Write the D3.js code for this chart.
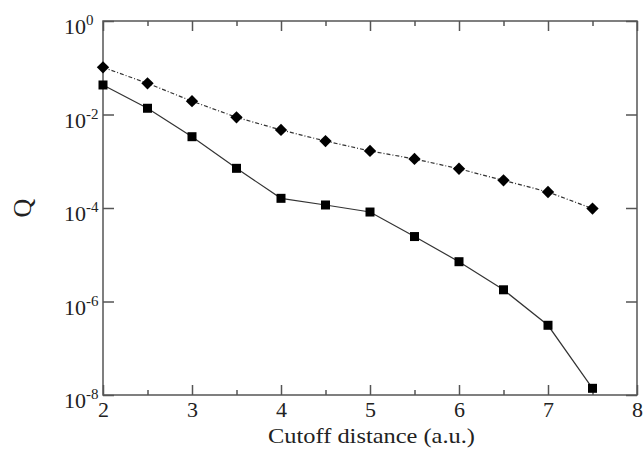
<!DOCTYPE html>
<html>
<head>
<meta charset="utf-8">
<script src="https://cdn.jsdelivr.net/npm/d3@7"></script>
<style>
  body { margin: 0; background: #fff; }
  svg { display: block; }
</style>
</head>
<body>
<script>
// values
var cutoff = [2, 2.5, 3, 3.5, 4, 4.5, 5, 5.5, 6, 6.5, 7, 7.5];
var qDiamond = [1.02e-1, 4.65e-2, 1.93e-2, 8.7e-3, 4.67e-3, 2.7e-3, 1.66e-3, 1.12e-3, 6.9e-4, 3.9e-4, 2.2e-4, 9.7e-5];
var qSquare = [4.28e-2, 1.36e-2, 3.35e-3, 7.06e-4, 1.61e-4, 1.16e-4, 8.2e-5, 2.45e-5, 7.1e-6, 1.78e-6, 3.1e-7, 1.39e-8];
var xTicks = [2, 3, 4, 5, 6, 7, 8];
var xMinor = [2.5, 3.5, 4.5, 5.5, 6.5, 7.5];
var yExp = [0, -2, -4, -6, -8];

var w = 644, h = 452;
// plot box (window.top is taken, so prefix)
var pLeft = 103, pRight = 637, pTop = 21, pBottom = 395;
var serif = "'Liberation Serif', 'DejaVu Serif', serif";

var svg = d3.select("body").append("svg").attr("width", w).attr("height", h)
  .style("font-family", serif);

var x = d3.scaleLinear().domain([2, 8]).range([pLeft, pRight]);
var y = d3.scaleLog().domain([1e-8, 1]).range([pBottom, pTop]);

var axisColor = "#555";
var textColor = "#222";

function styleAxis(g) {
  g.attr("font-family", null).attr("font-size", null);
  g.select(".domain").remove();
  g.selectAll(".tick line").attr("stroke", axisColor).attr("stroke-width", 1.5);
}

// x ticks, bottom and top
svg.append("g").attr("transform", "translate(0," + pBottom + ")")
  .call(d3.axisBottom(x).tickValues(xTicks).tickSize(-10).tickPadding(6).tickFormat(d3.format("d")))
  .call(styleAxis)
  .call(function (g) {
    g.selectAll(".tick text").attr("fill", textColor)
      .style("font-family", serif).style("font-size", "22px");
  });
svg.append("g").attr("transform", "translate(0," + pBottom + ")")
  .call(d3.axisBottom(x).tickValues(xMinor).tickSize(-5).tickFormat(""))
  .call(styleAxis);
svg.append("g").attr("transform", "translate(0," + pTop + ")")
  .call(d3.axisTop(x).tickValues(xTicks).tickSize(-10).tickFormat(""))
  .call(styleAxis);
svg.append("g").attr("transform", "translate(0," + pTop + ")")
  .call(d3.axisTop(x).tickValues(xMinor).tickSize(-5).tickFormat(""))
  .call(styleAxis);

// y ticks, left and right
var yVals = yExp.map(function (e) { return Math.pow(10, e); });
svg.append("g").attr("transform", "translate(" + pLeft + ",0)")
  .call(d3.axisLeft(y).tickValues(yVals).tickSize(-11).tickFormat(""))
  .call(styleAxis);
svg.append("g").attr("transform", "translate(" + pRight + ",0)")
  .call(d3.axisRight(y).tickValues(yVals).tickSize(-11).tickFormat(""))
  .call(styleAxis);

// y tick labels 10^n
var yLab = svg.append("g").selectAll("text").data(yExp).enter().append("text")
  .attr("x", 85)
  .attr("y", function (d) { return y(Math.pow(10, d)) + 13; })
  .attr("text-anchor", "end")
  .attr("fill", textColor)
  .style("font-family", serif).style("font-size", "22px");
yLab.append("tspan").text("10");
yLab.append("tspan").style("font-size", "15px").attr("dy", -9).text(function (d) { return d; });
// shift so the "10" ends near x = 85
yLab.each(function () {
  var t = d3.select(this);
  var sup = t.select("tspan:last-child").node().getComputedTextLength();
  t.attr("x", 86 + sup);
});

// frame
svg.append("rect")
  .attr("x", pLeft).attr("y", pTop)
  .attr("width", pRight - pLeft).attr("height", pBottom - pTop)
  .attr("fill", "none").attr("stroke", axisColor).attr("stroke-width", 1.5);

// lines
var line = function (vals) {
  return d3.line()
    .x(function (d, i) { return x(cutoff[i]); })
    .y(function (d) { return y(d); })(vals);
};

svg.append("path").attr("d", line(qSquare))
  .attr("fill", "none").attr("stroke", "#333").attr("stroke-width", 1.2);
svg.append("path").attr("d", line(qDiamond))
  .attr("fill", "none").attr("stroke", "#333").attr("stroke-width", 1.2)
  .attr("stroke-dasharray", "4,2,1,2");

// markers
svg.append("g").selectAll("rect").data(qSquare).enter().append("rect")
  .attr("x", function (d, i) { return x(cutoff[i]) - 4.5; })
  .attr("y", function (d) { return y(d) - 4.5; })
  .attr("width", 9).attr("height", 9)
  .attr("fill", "#000");

svg.append("g").selectAll("path").data(qDiamond).enter().append("path")
  .attr("d", d3.symbol().type(d3.symbolSquare).size(76))
  .attr("transform", function (d, i) { return "translate(" + x(cutoff[i]) + "," + y(d) + ") rotate(45)"; })
  .attr("fill", "#000");

// axis titles
svg.append("text")
  .attr("x", 268).attr("y", 443)
  .attr("textLength", 207).attr("lengthAdjust", "spacingAndGlyphs")
  .attr("fill", textColor)
  .style("font-family", serif).style("font-size", "22px")
  .text("Cutoff distance (a.u.)");

svg.append("text")
  .attr("transform", "translate(31," + ((pTop + pBottom) / 2) + ") rotate(-90)")
  .attr("text-anchor", "middle").attr("fill", textColor)
  .style("font-family", serif).style("font-size", "26px")
  .text("Q");
</script>
</body>
</html>
